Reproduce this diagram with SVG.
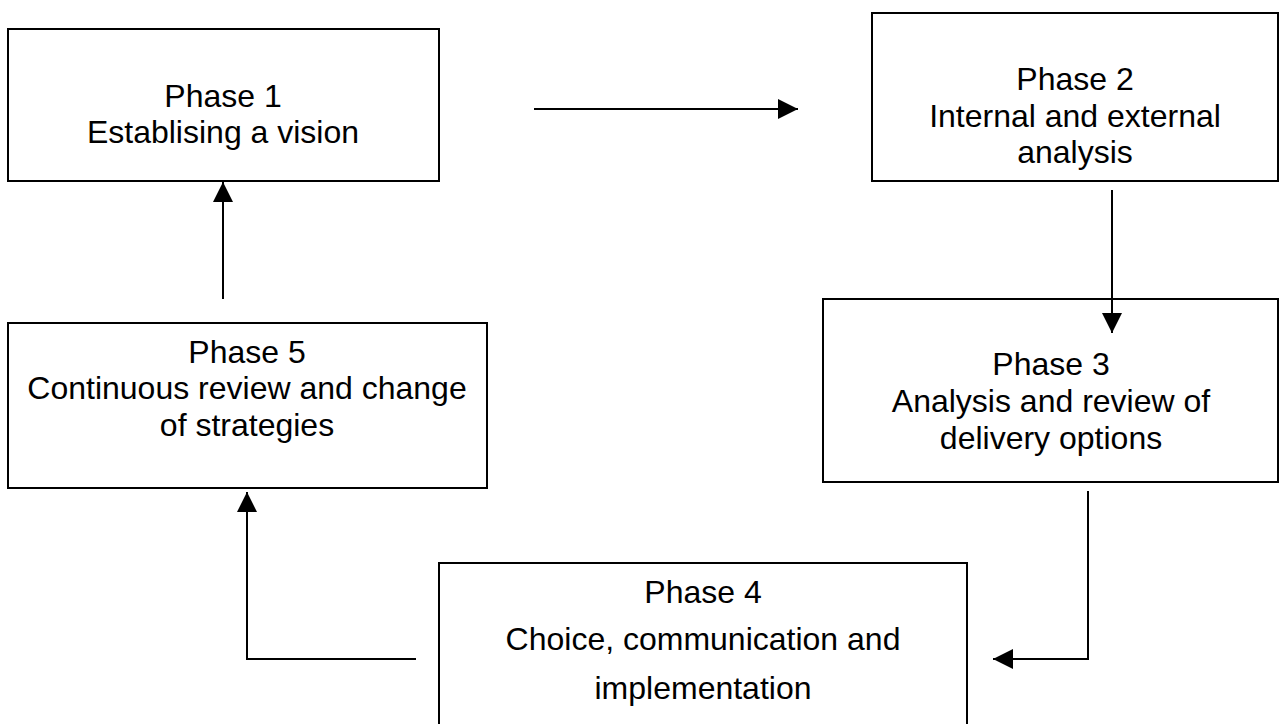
<svg xmlns="http://www.w3.org/2000/svg" width="1279" height="724" viewBox="0 0 1279 724">
<style>
.box{fill:#fff;stroke:#000;stroke-width:2}
.lbl{font-family:"Liberation Sans",Arial,sans-serif;font-size:32px;fill:#000;text-anchor:middle}
.conn{fill:none;stroke:#000;stroke-width:2;marker-end:url(#ah)}
</style>
<defs>
<marker id="ah" markerUnits="userSpaceOnUse" markerWidth="20" markerHeight="20" viewBox="0 0 20 20" refX="20" refY="10" orient="auto">
<path d="M0,0 L20,10 L0,20 Z" fill="#000"/>
</marker>
</defs>
<rect width="1279" height="724" fill="#fff"/>
<g id="phase1">
<rect class="box" x="8" y="29" width="431" height="152"/>
<text class="lbl" x="223" y="107">Phase 1</text>
<text class="lbl" x="223" y="143">Establising a vision</text>
</g>
<g id="phase2">
<rect class="box" x="872" y="13" width="406" height="168"/>
<text class="lbl" x="1075" y="90">Phase 2</text>
<text class="lbl" x="1075" y="127">Internal and external</text>
<text class="lbl" x="1075" y="163">analysis</text>
</g>
<g id="phase3">
<rect class="box" x="823" y="299" width="455" height="183"/>
<text class="lbl" x="1051" y="375">Phase 3</text>
<text class="lbl" x="1051" y="412">Analysis and review of</text>
<text class="lbl" x="1051" y="449">delivery options</text>
</g>
<g id="phase4">
<rect class="box" x="439" y="563" width="528" height="175"/>
<text class="lbl" x="703" y="603">Phase 4</text>
<text class="lbl" x="703" y="650">Choice, communication and</text>
<text class="lbl" x="703" y="699">implementation</text>
</g>
<g id="phase5">
<rect class="box" x="8" y="323" width="479" height="165"/>
<text class="lbl" x="247" y="363">Phase 5</text>
<text class="lbl" x="247" y="399">Continuous review and change</text>
<text class="lbl" x="247" y="436">of strategies</text>
</g>
<g id="connectors">
<path class="conn" d="M534,109 L798,109"/>
<path class="conn" d="M1112,190 L1112,333"/>
<path class="conn" d="M1088,491 L1088,659 L993,659"/>
<path class="conn" d="M416,659 L247,659 L247,492"/>
<path class="conn" d="M223,299 L223,182"/>
</g>
</svg>
